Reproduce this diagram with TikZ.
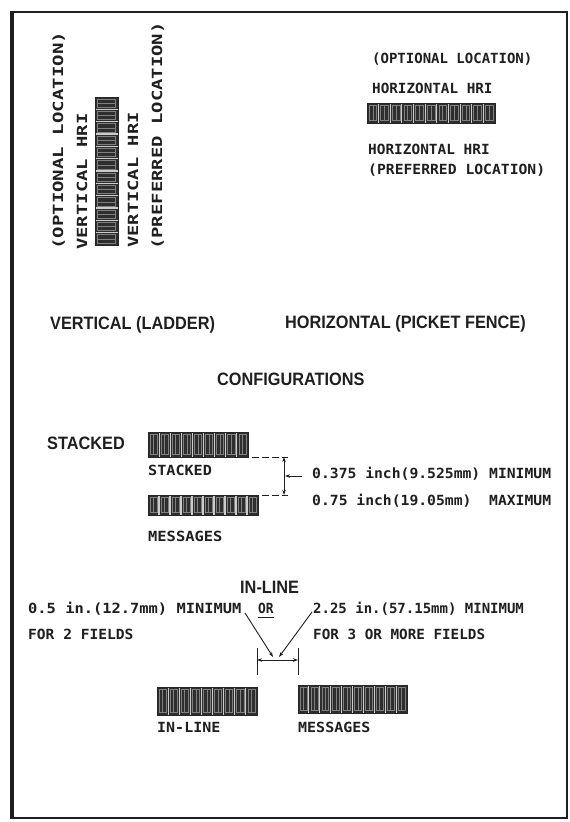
\documentclass[tikz,border=0pt]{standalone}
\usepackage{fontspec}
\setmainfont{Liberation Sans}
\newfontfamily\dotfont{DejaVu Sans Mono}
\usetikzlibrary{arrows.meta}
\definecolor{ink}{gray}{0.12}
\tikzset{
  mono/.style={inner sep=0pt, anchor=base west, font=\dotfont\bfseries\fontsize{14}{14}\selectfont, text=ink},
  vmono/.style={mono, rotate=90},
  head/.style={inner sep=0pt, anchor=base west, font=\bfseries\fontsize{16.3}{16}\selectfont, text=ink},
  dimline/.style={line width=0.9pt, draw=ink},
  extline/.style={dimline, dash pattern=on 7pt off 3pt},
  tip/.style={-{Stealth[length=5pt,width=3.5pt]}},
  tips/.style={{Stealth[length=5pt,width=3.5pt]}-{Stealth[length=5pt,width=3.5pt]}},
  barfill/.style={fill=black!82},
  barsep/.style={draw=white!80!black, line width=1.1pt},
  bartex/.style={draw=black!50, line width=0.6pt},
}
\newcommand{\sx}[2]{\scalebox{#1}[1]{#2}}
\newcommand{\hd}[1]{\scalebox{1.0}[1.1]{#1}}
% horizontal barcode: x1,y1,x2,y2,n
\newcommand{\barH}[5]{%
  \fill[barfill] (#1,#2) rectangle (#3,#4);
  \pgfmathsetmacro\bw{(#3-#1)/#5}%
  \foreach \i in {1,...,#5}{%
    \pgfmathsetmacro\xa{#1+(\i-1)*\bw}%
    \pgfmathsetmacro\xb{#1+\i*\bw}%
    \draw[bartex] ({\xa+2},#2+2.5) rectangle ({\xb-2},#4-2.5);
    \draw[bartex] ({\xa+0.5*\bw},#2+2.5) -- ({\xa+0.5*\bw},#4-2.5);
    \ifnum\i<#5 \draw[barsep] (\xb,#2) -- (\xb,#4);\fi
  }%
  \draw[line width=0.8pt, draw=black!85] (#1,#2) rectangle (#3,#4);
}
% vertical barcode (bands stacked): x1,y1,x2,y2,n
\newcommand{\barV}[5]{%
  \fill[barfill] (#1,#2) rectangle (#3,#4);
  \pgfmathsetmacro\bh{(#4-#2)/#5}%
  \foreach \i in {1,...,#5}{%
    \pgfmathsetmacro\ya{#2+(\i-1)*\bh}%
    \pgfmathsetmacro\yb{#2+\i*\bh}%
    \draw[bartex] (#1+2.5,{\ya+2}) rectangle (#3-2.5,{\yb-2});
    \draw[bartex] (#1+2.5,{\ya+0.5*\bh}) -- (#3-2.5,{\ya+0.5*\bh});
    \ifnum\i<#5 \draw[barsep] (#1,\yb) -- (#3,\yb);\fi
  }%
  \draw[line width=0.8pt, draw=black!85] (#1,#2) rectangle (#3,#4);
}
\begin{document}
\begin{tikzpicture}[x=1pt,y=-1pt]
\useasboundingbox (0,0) rectangle (570,822);
\fill[white] (0,0) rectangle (570,822);
% frame
\draw[line width=1.6pt, draw=ink] (12,12) rectangle (567,818);
\draw[line width=3.5pt, draw=ink] (12,11) -- (12,819);

% ---- vertical (ladder) ----
\node[vmono] (v1) at (63,250) {\sx{1.36}{(OPTIONAL LOCATION)}};
\node[vmono] (v2) at (87,250) {\sx{1.35}{VERTICAL HRI}};
\barV{95}{97}{118}{245}{12}
\node[vmono] (v3) at (138,248) {\sx{1.34}{VERTICAL HRI}};
\node[vmono] (v4) at (162,250) {\sx{1.35}{(PREFERRED LOCATION)}};

% ---- horizontal (picket fence) ----
\node[mono] (h1) at (372,63) {(OPTIONAL LOCATION)};
\node[mono] (h2) at (372,93) {\sx{1.02}{HORIZONTAL HRI}};
\barH{367}{103}{495}{123}{11}
\node[mono] (h3) at (368,154) {\sx{1.03}{HORIZONTAL HRI}};
\node[mono] (h4) at (368,174) {\sx{1.05}{(PREFERRED LOCATION)}};

% ---- headings ----
\node[head] (vl) at (50,329) {\hd{VERTICAL (LADDER)}};
\node[head] (hp) at (285,328) {\hd{HORIZONTAL (PICKET FENCE)}};
\node[head] (cf) at (217,385) {\hd{CONFIGURATIONS}};
\node[head] (st) at (47,449) {\hd{STACKED}};

% ---- stacked ----
\barH{148}{432}{248}{457}{9}
\node[mono] (sl1) at (148,475) {\sx{1.08}{STACKED}};
\barH{148}{495}{258}{515}{10}
\node[mono] (sl2) at (148,541) {\sx{1.1}{MESSAGES}};
\coordinate (sa) at (252,457);
\coordinate (sb) at (288,457);
\coordinate (sc) at (262,495);
\coordinate (sd) at (288,495);
\coordinate (dt) at (284,457);
\coordinate (db) at (284,495);
\coordinate (dm) at (285,476);
\coordinate (dl) at (302,476);
\draw[extline] (sa) -- (sb);
\draw[extline] (sc) -- (sd);
\draw[dimline, tips] (db) -- (dt);
\draw[dimline, tip] (dl) -- (dm);
\node[mono] (d1) at (312,478) {\sx{1.05}{0.375 inch(9.525mm) MINIMUM}};
\node[mono] (d2) at (312,505) {\sx{1.05}{0.75 inch(19.05mm)\ \ MAXIMUM}};

% ---- in-line ----
\node[head] (il) at (240,593) {\hd{IN-LINE}};
\node[mono] (i1) at (28,613) {\sx{1.1}{0.5 in.(12.7mm) MINIMUM}};
\node[mono] (i2) at (28,639) {\sx{1.04}{FOR 2 FIELDS}};
\node[mono] (or) at (258,613) {\sx{0.92}{OR}};
\draw[line width=1.2pt, draw=ink] ([yshift=-4pt]or.south west) -- ([yshift=-4pt]or.south east);
\node[mono] (i4) at (313,613) {\sx{1.0}{2.25 in.(57.15mm) MINIMUM}};
\node[mono] (i5) at (313,639) {\sx{1.02}{FOR 3 OR MORE FIELDS}};

\barH{157}{687}{257}{715}{9}
\node[mono] (bl1) at (157,732) {\sx{1.07}{IN-LINE}};
\barH{298}{685}{407}{713}{10}
\node[mono] (bl2) at (298,732) {\sx{1.07}{MESSAGES}};

\coordinate (ta) at (257,648);
\coordinate (tb) at (257,675);
\coordinate (tc) at (298,648);
\coordinate (td) at (298,675);
\coordinate (ga) at (257,660);
\coordinate (gb) at (298,660);
\coordinate (la) at (245,613);
\coordinate (lb) at (273,657);
\coordinate (ra) at (312,612);
\coordinate (rb) at (279,657);
\draw[dimline] (ta) -- (tb);
\draw[dimline] (tc) -- (td);
\draw[dimline, tips] (ga) -- (gb);
\draw[dimline, tip] (la) -- (lb);
\draw[dimline, tip] (ra) -- (rb);
\end{tikzpicture}
\end{document}
